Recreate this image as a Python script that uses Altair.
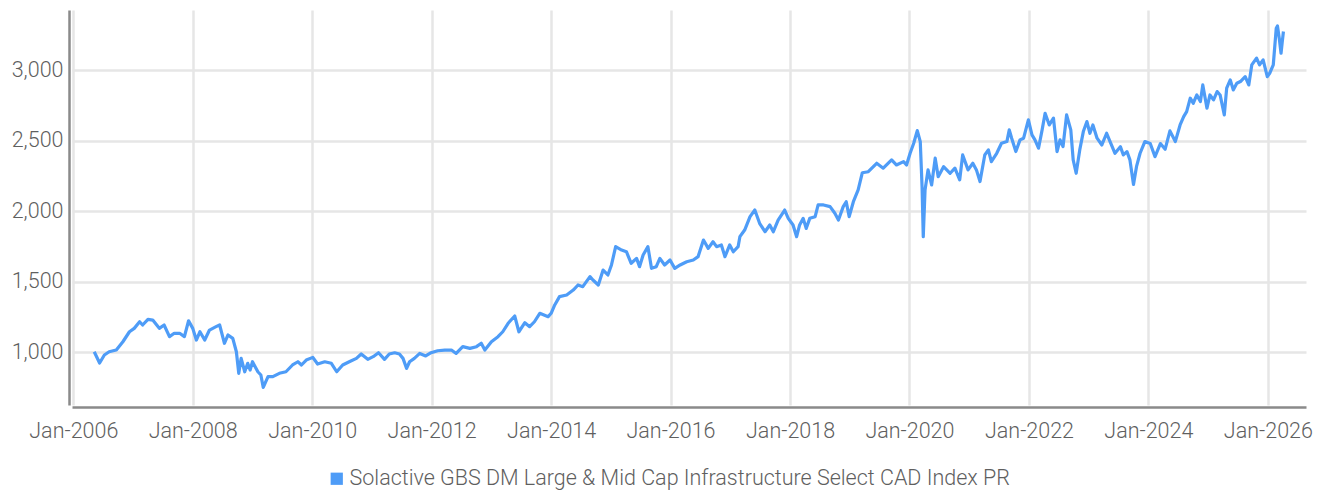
import altair as alt
import pandas as pd

# decimal years
years = [
    2006.35, 2006.44, 2006.52, 2006.60, 2006.72, 2006.83, 2006.94, 2007.02, 2007.11, 2007.16,
    2007.25, 2007.33, 2007.44, 2007.52, 2007.61, 2007.69, 2007.78, 2007.86, 2007.93, 2008.00,
    2008.06, 2008.12, 2008.20, 2008.28, 2008.39, 2008.45, 2008.53, 2008.59, 2008.67, 2008.73,
    2008.77, 2008.81, 2008.87, 2008.92, 2008.96, 2009.00, 2009.09, 2009.14, 2009.18, 2009.26,
    2009.34, 2009.45, 2009.56, 2009.67, 2009.76, 2009.82, 2009.90, 2010.01, 2010.09, 2010.21,
    2010.32, 2010.41, 2010.51, 2010.62, 2010.74, 2010.82, 2010.93, 2011.02, 2011.11, 2011.21,
    2011.29, 2011.38, 2011.46, 2011.52, 2011.58, 2011.63, 2011.71, 2011.80, 2011.90, 2011.99,
    2012.10, 2012.22, 2012.33, 2012.41, 2012.52, 2012.64, 2012.75, 2012.83, 2012.89, 2013.00,
    2013.11, 2013.19, 2013.28, 2013.39, 2013.46, 2013.56, 2013.64, 2013.72, 2013.81, 2013.95,
    2014.00, 2014.06, 2014.14, 2014.26, 2014.37, 2014.45, 2014.53, 2014.65, 2014.70, 2014.79,
    2014.87, 2014.95, 2015.01, 2015.08, 2015.18, 2015.26, 2015.34, 2015.43, 2015.48, 2015.54,
    2015.62, 2015.68, 2015.76, 2015.82, 2015.90, 2015.99, 2016.07, 2016.16, 2016.27, 2016.38,
    2016.46, 2016.55, 2016.63, 2016.71, 2016.77, 2016.85, 2016.91, 2016.99, 2017.05, 2017.13,
    2017.16, 2017.24, 2017.33, 2017.41, 2017.49, 2017.58, 2017.66, 2017.72, 2017.80, 2017.91,
    2017.97, 2018.05, 2018.11, 2018.16, 2018.22, 2018.27, 2018.33, 2018.42, 2018.47, 2018.56,
    2018.67, 2018.75, 2018.81, 2018.89, 2018.94, 2018.99, 2019.06, 2019.14, 2019.21, 2019.31,
    2019.45, 2019.56, 2019.70, 2019.78, 2019.90, 2019.95, 2020.01, 2020.07, 2020.13, 2020.18,
    2020.21, 2020.23, 2020.26, 2020.31, 2020.37, 2020.43, 2020.48, 2020.57, 2020.68, 2020.76,
    2020.84, 2020.89, 2020.98, 2021.06, 2021.12, 2021.18, 2021.26, 2021.32, 2021.37, 2021.46,
    2021.54, 2021.63, 2021.67, 2021.71, 2021.78, 2021.85, 2021.91, 2021.99, 2022.05, 2022.10,
    2022.16, 2022.22, 2022.27, 2022.34, 2022.41, 2022.47, 2022.52, 2022.57, 2022.63, 2022.70,
    2022.74, 2022.79, 2022.85, 2022.91, 2022.97, 2023.02, 2023.07, 2023.14, 2023.22, 2023.30,
    2023.37, 2023.44, 2023.53, 2023.58, 2023.64, 2023.69, 2023.75, 2023.80, 2023.86, 2023.94,
    2024.03, 2024.11, 2024.20, 2024.28, 2024.36, 2024.45, 2024.53, 2024.59, 2024.64, 2024.70,
    2024.75, 2024.81, 2024.87, 2024.91, 2024.98, 2025.03, 2025.09, 2025.15, 2025.20, 2025.27,
    2025.31, 2025.37, 2025.42, 2025.48, 2025.54, 2025.62, 2025.68, 2025.73, 2025.81, 2025.86,
    2025.92, 2025.99, 2026.03, 2026.09, 2026.14, 2026.16, 2026.19, 2026.22, 2026.24, 2026.26,
]

values = [
    1002, 922, 979, 1002, 1014, 1073, 1144, 1168, 1215, 1192,
    1232, 1227, 1168, 1192, 1109, 1133, 1133, 1109, 1222, 1168,
    1085, 1144, 1085, 1156, 1180, 1192, 1062, 1121, 1097, 1002,
    849, 955, 860, 920, 872, 931, 860, 837, 749, 825,
    825, 849, 860, 908, 931, 908, 943, 962, 915, 931,
    920, 860, 908, 931, 955, 986, 948, 967, 995, 948,
    986, 995, 986, 955, 884, 931, 955, 990, 972, 995,
    1009, 1014, 1014, 990, 1038, 1026, 1038, 1062, 1014, 1073,
    1109, 1144, 1204, 1256, 1144, 1208, 1180, 1215, 1275, 1251,
    1275, 1334, 1393, 1405, 1440, 1476, 1464, 1535, 1511, 1476,
    1582, 1547, 1618, 1748, 1724, 1712, 1630, 1665, 1606, 1689,
    1748, 1594, 1606, 1665, 1618, 1653, 1594, 1618, 1641, 1653,
    1677, 1795, 1736, 1783, 1748, 1760, 1677, 1760, 1712, 1748,
    1819, 1866, 1961, 2008, 1914, 1854, 1902, 1854, 1937, 2008,
    1949, 1902, 1819, 1902, 1949, 1878, 1949, 1961, 2044, 2044,
    2032, 1985, 1937, 2032, 2067, 1961, 2067, 2151, 2273, 2280,
    2340, 2305, 2364, 2328, 2352, 2328, 2411, 2482, 2572, 2494,
    2174, 1819, 2151, 2293, 2186, 2376, 2245, 2316, 2269, 2305,
    2222, 2399, 2293, 2340, 2293, 2210, 2399, 2435, 2352, 2411,
    2482, 2494, 2577, 2518, 2423, 2506, 2518, 2648, 2541, 2506,
    2447, 2577, 2695, 2612, 2660, 2423, 2506, 2458, 2683, 2577,
    2364, 2269, 2435, 2565, 2636, 2553, 2612, 2518, 2470, 2553,
    2482, 2411, 2458, 2399, 2423, 2364, 2190, 2316, 2411, 2494,
    2480, 2387, 2480, 2440, 2570, 2494, 2612, 2671, 2707, 2802,
    2766, 2825, 2778, 2896, 2731, 2825, 2790, 2849, 2825, 2683,
    2873, 2932, 2861, 2908, 2920, 2955, 2896, 3038, 3086, 3038,
    3074, 2955, 2979, 3038, 3299, 3315, 3228, 3121, 3200, 3275,
]

series_name = "Solactive GBS DM Large & Mid Cap Infrastructure Select CAD Index PR"
line_color = "#4e9cf7"

base = pd.Timestamp("2006-01-01")
df = pd.DataFrame({
    "date": [base + pd.to_timedelta((y - 2006) * 365.25, unit="D") for y in years],
    "value": values,
    "series": series_name,
})

font = "Roboto"
fs = 21.5

chart = (
    alt.Chart(df)
    .mark_line(strokeWidth=3.2, strokeJoin="round")
    .encode(
        x=alt.X(
            "date:T",
            title=None,
            scale=alt.Scale(domain=["2005-12-24", "2026-08-22"], nice=False),
            axis=alt.Axis(
                format="%b-%Y",
                tickCount={"interval": "year", "step": 2},
                ticks=False,
                labelFontSize=fs,
                labelPadding=13,
                offset=2,
                domainColor="#8a8a8a",
                domainWidth=2.5,
                gridColor="#e6e6e6",
                gridWidth=2.5,
                labelColor="#5f5f5f",
                labelFont=font,
                labelFontWeight=300,
            ),
        ),
        y=alt.Y(
            "value:Q",
            title=None,
            scale=alt.Scale(domain=[624, 3428], nice=False, zero=False),
            axis=alt.Axis(
                values=[1000, 1500, 2000, 2500, 3000],
                format=",d",
                ticks=False,
                labelFontSize=fs,
                labelPadding=6,
                offset=3,
                domainColor="#8a8a8a",
                domainWidth=2.5,
                gridColor="#e6e6e6",
                gridWidth=2.5,
                labelColor="#5f5f5f",
                labelFont=font,
                labelFontWeight=300,
            ),
        ),
        color=alt.Color(
            "series:N",
            scale=alt.Scale(range=[line_color]),
            legend=alt.Legend(
                title=None,
                orient="none",
                legendX=254,
                legendY=458,
                symbolType="square",
                symbolSize=150,
                symbolStrokeWidth=0,
                symbolFillColor=line_color,
                labelFontSize=fs,
                labelFont=font,
                labelFontWeight=300,
                labelColor="#5f5f5f",
                labelLimit=1000,
                labelOffset=2,
            ),
        ),
    )
    .properties(
        width=1234,
        height=395,
        autosize=alt.AutoSizeParams(type="none"),
        padding={"left": 64, "top": 2, "right": 10, "bottom": 86},
    )
    .configure_view(stroke=None)
)

chart.save("out.html", embed_options={"renderer": "svg", "actions": False})
